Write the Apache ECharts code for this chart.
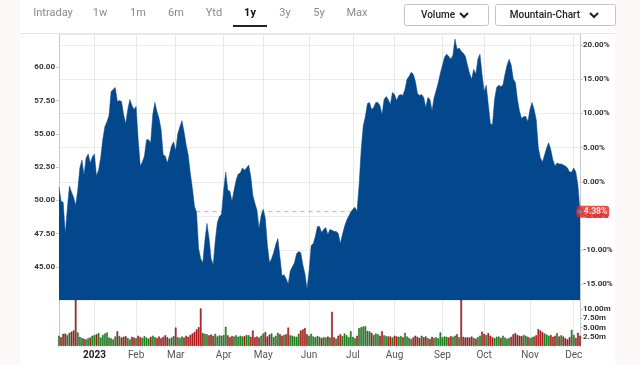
<!DOCTYPE html>
<html><head><meta charset="utf-8">
<script src="https://cdn.jsdelivr.net/npm/echarts@6/dist/echarts.min.js"></script>
<style>html,body{margin:0;padding:0;background:#fcf8f8;}#c{width:640px;height:365px;}</style>
</head><body><div id="c"></div>
<script>
// ---- data ----
const START_DATE = '2022-12-07';
const END_DATE = '2023-12-06';
const HOLIDAYS = ['2022-12-26','2023-01-02','2023-01-16','2023-02-20','2023-04-07','2023-05-29','2023-06-19','2023-07-04','2023-09-04','2023-11-23'];
const TICK_LABELS = ['2023','Feb','Mar','Apr','May','Jun','Jul','Aug','Sep','Oct','Nov','Dec'];
const TABS = ['Intraday','1w','1m','6m','Ytd','1y','3y','5y','Max'];
const ACTIVE_TAB = '1y';
const BASE_PRICE = 51.39;      // price at 0.00%
const REF_LINE_START = 66;     // index where the dashed last-price line begins
const PRICE_MIN = 42.5, PRICE_MAX = 62.5, PRICE_STEP = 2.5;
const VOL_MAX = 12.5, VOL_STEP = 2.5;

const PRICE = [
50.98,49.92,49.85,47.50,49.39,51.06,50.61,50.23,49.62,50.76,
52.42,53.03,51.89,53.18,53.48,52.80,53.26,53.48,51.82,52.27,
53.18,54.55,55.53,55.91,56.36,58.18,58.33,58.48,57.42,57.50,
57.42,56.44,55.76,56.82,57.58,57.12,56.82,57.05,54.55,52.58,
52.88,53.33,54.55,54.55,54.32,56.44,57.35,56.67,56.14,55.30,
53.41,53.33,52.80,53.41,54.09,54.39,53.71,55.00,55.53,55.98,
55.15,54.17,53.41,52.05,50.91,49.55,49.09,46.36,45.61,45.30,
46.97,48.26,47.12,45.61,45.15,46.97,48.33,48.79,48.94,50.76,
52.12,50.76,50.68,49.92,50.76,51.52,51.97,52.05,52.42,52.27,
52.42,52.65,51.82,50.38,49.77,49.24,47.88,48.86,49.32,48.64,
46.59,45.30,45.61,46.06,46.67,47.12,45.76,44.32,44.39,44.09,
43.71,44.70,45.00,45.30,45.98,46.14,46.06,45.15,44.47,43.33,
44.70,46.59,46.74,47.27,48.03,48.03,47.58,47.80,47.95,47.42,
47.80,47.74,47.65,47.65,47.50,46.74,47.42,48.03,48.48,48.79,
49.09,49.32,49.47,49.17,51.14,53.79,55.61,56.29,57.27,57.35,
56.82,56.97,57.35,57.35,57.12,56.44,57.58,57.80,57.58,57.20,
58.11,57.95,57.50,57.88,57.95,57.88,58.33,59.09,59.32,59.62,
59.47,58.94,58.03,57.88,57.95,57.73,56.97,57.73,57.58,56.74,
57.73,58.26,58.86,59.55,60.15,60.76,60.98,60.83,60.61,60.91,
62.12,61.36,61.44,61.21,61.06,60.83,60.15,59.55,59.09,59.85,
59.47,60.61,60.98,59.47,58.18,58.64,57.20,55.76,55.68,57.58,
58.48,58.64,58.56,58.64,59.47,60.15,60.61,60.15,59.09,58.86,
57.58,56.67,56.14,56.29,56.29,55.91,56.82,57.35,56.82,56.06,
53.94,53.18,52.88,53.41,53.94,54.32,53.79,53.03,52.58,52.80,
52.73,52.73,52.65,52.58,52.42,52.12,52.12,52.42,52.12,51.14,
49.14
];

// volume in millions
const VOLUME = [
2.8,2.4,3.3,3.4,3.0,3.6,3.9,4.2,15.0,3.7,
2.5,2.2,2.0,1.8,2.1,2.3,2.8,3.0,3.2,3.5,
2.3,3.0,3.4,3.7,2.3,2.1,1.8,2.6,4.0,2.7,
2.3,2.5,2.7,2.2,1.8,2.5,2.3,2.1,2.8,2.4,
2.2,2.7,2.3,2.0,2.5,2.8,2.4,2.2,2.6,2.1,
2.5,2.9,2.4,2.0,2.3,2.7,5.0,2.4,2.2,2.6,
2.3,2.8,2.5,3.0,3.4,3.8,4.5,5.1,10.2,3.5,
3.3,3.2,2.9,3.1,2.8,3.3,2.6,2.9,2.8,3.0,
5.2,2.9,2.4,2.7,2.6,2.9,2.5,2.8,2.6,2.7,
3.0,2.9,2.5,4.2,2.4,2.6,2.3,2.8,3.4,3.8,
2.6,3.1,3.4,2.4,2.8,3.6,3.2,2.8,3.0,3.2,
5.0,2.9,2.8,2.6,2.5,3.3,4.2,4.5,4.9,3.2,
2.8,3.3,2.6,2.4,2.7,2.5,2.2,2.4,2.3,2.6,
2.3,9.3,2.4,2.0,2.8,3.2,2.7,3.4,2.9,2.4,
4.0,2.5,2.1,2.8,4.9,5.1,5.3,5.4,4.1,4.0,
3.6,3.0,3.4,3.2,2.8,4.0,2.9,2.7,2.6,2.6,
2.3,2.8,2.6,2.5,2.7,2.4,3.6,2.6,2.2,1.9,
2.4,2.8,2.5,2.2,2.8,2.4,2.6,2.1,1.9,2.5,
2.2,2.4,2.1,3.7,2.4,2.6,2.5,2.3,2.7,2.5,
2.8,3.2,2.4,15.0,2.5,2.3,2.4,2.3,2.6,2.2,
2.0,2.4,2.8,3.9,3.3,3.0,3.5,2.8,2.4,2.1,
2.5,2.6,2.2,2.8,2.3,2.0,2.2,2.5,3.2,3.5,
3.0,2.8,2.7,3.0,2.8,2.5,2.2,2.4,2.6,2.9,
4.6,4.2,3.8,3.4,3.1,2.8,3.0,2.5,2.8,3.5,
2.6,2.9,2.6,2.1,1.8,2.4,4.4,3.0,2.2,3.6,
2.8
];

// ---- derived ----
function tradingDays() {
  const out = [];
  const d = new Date(START_DATE + 'T00:00:00Z');
  const end = new Date(END_DATE + 'T00:00:00Z');
  while (d <= end) {
    const s = d.toISOString().slice(0, 10);
    const w = d.getUTCDay();
    if (w !== 0 && w !== 6 && HOLIDAYS.indexOf(s) < 0) out.push(s);
    d.setUTCDate(d.getUTCDate() + 1);
  }
  return out;
}
const DATES = tradingDays();
const monthStart = new Set();
const labelAt = {};
{
  let k = 0;
  for (let i = 1; i < DATES.length; i++) {
    if (DATES[i].slice(0, 7) !== DATES[i - 1].slice(0, 7)) {
      monthStart.add(i);
      labelAt[i] = TICK_LABELS[k++];
    }
  }
}
const isMonth = (i) => monthStart.has(i);
const LAST = PRICE[PRICE.length - 1];
const pct = (p) => (p / BASE_PRICE - 1) * 100;
const refLine = PRICE.map((p, i) => (i >= REF_LINE_START ? LAST : '-'));
const lastOnly = PRICE.map((p, i) => (i === PRICE.length - 1 ? p : '-'));
const volData = VOLUME.map((v, i) => {
  const up = i === 0 ? true : PRICE[i] >= PRICE[i - 1];
  return { value: v, itemStyle: up ? { color: '#239a23', borderColor: '#115511' } : { color: '#d3201f', borderColor: '#6e0f0f' } };
});

const FONT = 'Roboto, "Open Sans", sans-serif';
const AX = '#c8c8c8';

// ---- UI graphics (tabs / buttons) ----
const tabX = [53, 100, 138, 176, 214, 250, 285, 319, 357];
const graphics = [
  { type: 'rect', z: -10, silent: true, shape: { x: 20, y: 0, width: 595, height: 365 }, style: { fill: '#ffffff' } },
  { type: 'line', z: 100, shape: { x1: 20, y1: 33.5, x2: 615, y2: 33.5 }, style: { stroke: '#e3e3e3', lineWidth: 1 } }
];
TABS.forEach((t, i) => {
  const active = t === ACTIVE_TAB;
  graphics.push({ type: 'text', z: 100, x: tabX[i], y: 13, style: { text: t, fill: active ? '#111' : '#8a8a8a', font: (active ? 'bold ' : '') + '11px ' + FONT, textAlign: 'center', textVerticalAlign: 'middle' } });
});
graphics.push({ type: 'rect', z: 100, shape: { x: 233, y: 25, width: 34, height: 2 }, style: { fill: '#222' } });
function button(x, w, label, textX, chevX) {
  graphics.push({ type: 'rect', z: 100, shape: { x: x + 0.5, y: 4.5, width: w, height: 21, r: 2 }, style: { fill: '#fff', stroke: '#c4c4c4', lineWidth: 1 } });
  graphics.push({ type: 'text', z: 101, x: textX, y: 15, style: { text: label, fill: '#222', font: '500 10px ' + FONT, textAlign: 'center', textVerticalAlign: 'middle' } });
  graphics.push({ type: 'polyline', z: 101, shape: { points: [[chevX - 4, 13], [chevX, 17], [chevX + 4, 13]] }, style: { stroke: '#222', lineWidth: 2, fill: null } });
}
button(404, 84, 'Volume', 438, 464);
button(495, 120, 'Mountain-Chart', 545, 594);

const option = {
  animation: false,
  textStyle: { fontFamily: FONT },
  graphic: graphics,
  grid: [
    { left: 59, right: 60, top: 34, height: 266 },
    { left: 59, right: 60, top: 300, height: 46 }
  ],
  xAxis: [
    { type: 'category', gridIndex: 0, data: DATES, boundaryGap: false,
      axisLine: { show: false }, axisTick: { show: false }, axisLabel: { show: false },
      splitLine: { show: true, interval: isMonth, lineStyle: { color: '#e8e8e8' } } },
    { type: 'category', gridIndex: 1, data: DATES, boundaryGap: false,
      axisLine: { show: false }, axisTick: { show: false },
      axisLabel: { interval: isMonth, margin: 4, fontSize: 10, color: '#555',
        formatter: (v, i) => { const l = labelAt[i] || ''; return /^\d{4}$/.test(l) ? '{y|' + l + '}' : l; },
        rich: { y: { fontSize: 10, fontWeight: 'bold', color: '#222' } } },
      splitLine: { show: true, interval: isMonth, lineStyle: { color: '#e8e8e8' } } }
  ],
  yAxis: [
    { type: 'value', gridIndex: 0, position: 'left', min: PRICE_MIN, max: PRICE_MAX, interval: PRICE_STEP,
      axisLine: { show: true, lineStyle: { color: AX } }, axisTick: { show: true, length: 3, lineStyle: { color: AX } },
      axisLabel: { showMinLabel: false, showMaxLabel: false, fontSize: 8, color: '#333', fontWeight: 'bold', margin: 4, formatter: (v) => v.toFixed(2) },
      splitLine: { show: false } },
    { type: 'value', gridIndex: 0, position: 'right', min: pct(PRICE_MIN), max: pct(PRICE_MAX), minInterval: 5, maxInterval: 5, splitNumber: 8,
      axisLine: { show: true, lineStyle: { color: AX } }, axisTick: { show: true, length: 3, lineStyle: { color: AX } },
      axisLabel: { showMinLabel: false, showMaxLabel: false, fontSize: 8, color: '#333', fontWeight: 'bold', margin: 3, formatter: (v) => v.toFixed(2) + '%' },
      splitLine: { show: true, lineStyle: { color: '#ececec' } } },
    { type: 'value', gridIndex: 1, position: 'right', min: 0, max: VOL_MAX, interval: VOL_STEP,
      axisLine: { show: true, lineStyle: { color: AX } }, axisTick: { show: true, length: 3, lineStyle: { color: AX } },
      axisLabel: { showMinLabel: false, showMaxLabel: false, fontSize: 8, color: '#333', fontWeight: 'bold', margin: 3, formatter: (v) => v.toFixed(2) + 'm' },
      splitLine: { show: false } },
    { type: 'value', gridIndex: 1, position: 'left', min: 0, max: VOL_MAX,
      axisLine: { show: true, lineStyle: { color: AX } }, axisTick: { show: false }, axisLabel: { show: false }, splitLine: { show: false } }
  ],
  series: [
    { type: 'line', name: 'ref', xAxisIndex: 0, yAxisIndex: 0, data: refLine, symbol: 'none', z: 1,
      lineStyle: { color: '#ef8a8a', width: 1, type: [4, 4] }, silent: true },
    { type: 'line', name: 'price', xAxisIndex: 0, yAxisIndex: 0, data: PRICE, symbol: 'none', z: 2,
      lineStyle: { color: '#03488c', width: 0.5 }, areaStyle: { color: '#03488c', opacity: 1 } },
    { type: 'bar', name: 'volume', xAxisIndex: 1, yAxisIndex: 2, data: volData, barWidth: '80%', z: 2,
      itemStyle: { borderWidth: 0.5 } },
    { type: 'scatter', name: 'lastLabel', xAxisIndex: 0, yAxisIndex: 0, data: lastOnly, symbol: 'circle', symbolSize: 1, z: 5,
      itemStyle: { color: 'rgba(0,0,0,0)' },
      label: { show: true, position: 'right', distance: -4, formatter: (p) => pct(p.value).toFixed(2) + '%',
        backgroundColor: '#e8231f', color: '#fff', fontSize: 8.5, fontWeight: 'bold', padding: [2, 2, 1, 4], borderRadius: 3 } },
    { type: 'scatter', name: 'lastDot', xAxisIndex: 0, yAxisIndex: 0, data: lastOnly, symbol: 'circle', symbolSize: 6, z: 6,
      itemStyle: { color: '#4b93d3', borderColor: '#e8231f', borderWidth: 1.2 } }
  ]
};
const chart = echarts.init(document.getElementById('c'), null, { renderer: 'canvas' });
chart.setOption(option);
</script>
</body></html>
